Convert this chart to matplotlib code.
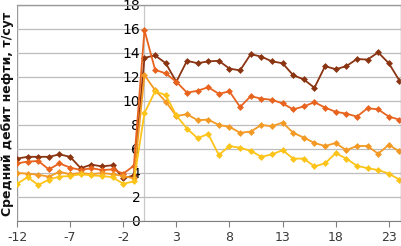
import numpy as np
import matplotlib
matplotlib.use('Agg')
import matplotlib.pyplot as plt

# months relative to the treatment (0 = month of the job)
months = list(range(-12, 25))

# average oil rate, t/day, four well groups
series_dark = [5.2, 5.35, 5.35, 5.35, 5.55, 5.35, 4.4, 4.7, 4.55, 4.65, 3.55, 3.8,
               13.6, 13.8, 13.15, 11.6, 13.35, 13.15, 13.3, 13.35, 12.7, 12.55, 13.9, 13.7,
               13.3, 13.15, 12.15, 11.8, 11.1, 12.9, 12.65, 12.9, 13.5, 13.45, 14.05, 13.15, 11.7]
series_red = [4.8, 4.95, 5.0, 4.3, 4.8, 4.45, 4.25, 4.4, 4.25, 4.3, 3.95, 4.6,
              15.9, 12.6, 12.3, 11.6, 10.7, 10.85, 11.15, 10.6, 10.8, 9.5, 10.4, 10.2,
              10.1, 9.8, 9.3, 9.55, 9.9, 9.45, 9.1, 8.95, 8.7, 9.4, 9.3, 8.7, 8.45]
series_orange = [4.0, 3.95, 3.85, 3.7, 4.1, 3.9, 4.0, 3.9, 4.0, 3.9, 3.75, 3.55,
                 12.15, 10.9, 9.95, 8.75, 8.9, 8.4, 8.45, 8.0, 7.85, 7.35, 7.45, 8.0,
                 7.9, 8.2, 7.35, 6.95, 6.5, 6.25, 6.5, 5.9, 6.25, 6.25, 5.6, 6.35, 5.8]
series_yellow = [3.1, 3.65, 3.0, 3.45, 3.7, 3.75, 3.9, 3.8, 3.75, 3.65, 3.1, 3.3,
                 9.0, 10.8, 10.5, 8.8, 7.7, 6.9, 7.25, 5.5, 6.25, 6.1, 5.85, 5.35,
                 5.55, 5.9, 5.2, 5.2, 4.55, 4.8, 5.65, 5.2, 4.6, 4.4, 4.25, 3.95, 3.45]

xticks = [-12, -7, -2, 3, 8, 13, 18, 23]
yticks = [0, 2, 4, 6, 8, 10, 12, 14, 16, 18]

colors = ['#8a3412', '#e8641e', '#f39a24', '#fcc419']
tick_font = ['Liberation Sans Narrow', 'DejaVu Sans']

fig = plt.figure(figsize=(4.02, 2.46), dpi=100)
ax = fig.add_axes([17 / 402, 25 / 246, 384 / 402, 216 / 246])

for vals, c in zip([series_dark, series_red, series_orange, series_yellow], colors):
    ax.plot(months, vals, color=c, lw=1.3, marker='D', ms=3,
            markeredgewidth=0.5, markeredgecolor=c)

ax.set_xlim(-12, 24.15)
ax.set_ylim(0, 18)

ax.set_yticks(yticks)
ax.set_xticks(xticks)
ax.set_xticklabels([str(t) for t in xticks], family=tick_font, fontsize=9, color='#3a3a3a')
ax.set_yticklabels([str(t) for t in yticks], family=tick_font, fontsize=9, color='#3a3a3a')

ax.grid(axis='y', color='#bcbcbc', lw=0.9)
ax.set_axisbelow(True)

# y axis crosses at month 0
ax.axvline(0, color='#c8c8c8', lw=0.9, zorder=0.5)
ax.axvline(-12, color='#9a9a9a', lw=1.0, zorder=0.5)
for side in ['top', 'right']:
    ax.spines[side].set_color('#9a9a9a')
    ax.spines[side].set_linewidth(1.0)
ax.spines['bottom'].set_color('#808080')
ax.spines['left'].set_position(('data', 0))
ax.spines['left'].set_visible(False)

ax.tick_params(axis='y', length=0, pad=3)
ax.tick_params(axis='x', length=4, width=0.8, color='#808080', direction='out', pad=3)

fig.text(0.019, (246 - 114) / 246, 'Средний дебит нефти, т/сут', rotation=90,
         ha='center', va='center', fontsize=9, fontweight='bold', color='#111111')

fig.savefig('out.png', dpi=100)
